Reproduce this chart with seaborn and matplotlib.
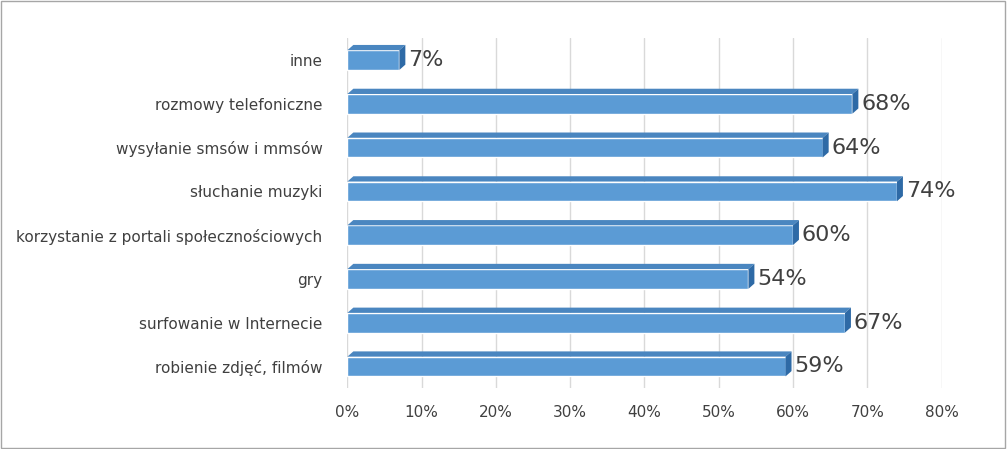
import matplotlib
matplotlib.use('Agg')
import matplotlib.pyplot as plt
import seaborn as sns
import pandas as pd
from matplotlib.patches import Polygon, Rectangle

categories = ['inne', 'rozmowy telefoniczne', 'wysyłanie smsów i mmsów', 'słuchanie muzyki',
              'korzystanie z portali społecznościowych', 'gry', 'surfowanie w Internecie',
              'robienie zdjęć, filmów']
values = [7, 68, 64, 74, 60, 54, 67, 59]
ticks = [0, 10, 20, 30, 40, 50, 60, 70, 80]

df = pd.DataFrame({'cat': categories, 'val': values})

sns.set_style('white')
plt.rcParams['font.family'] = ['DejaVu Sans']
fig = plt.figure(figsize=(10.07, 4.49), dpi=100)
ax = fig.add_axes([0.345, 0.135, 0.59, 0.78])

sns.barplot(data=df, x='val', y='cat', color='#5B9BD5', saturation=1, width=0.45, ax=ax, zorder=3)
ax.set_xlim(0, 80)
ax.set_xticks(ticks)
ax.set_xticklabels([f'{t}%' for t in ticks], fontsize=11, color='#404040')
ax.tick_params(axis='y', labelsize=11, labelcolor='#404040', length=0, pad=18)
ax.tick_params(axis='x', length=0, pad=12)
ax.set_xlabel('')
ax.set_ylabel('')
ax.grid(axis='x', color='#D9D9D9', lw=1, zorder=0)
for s in ax.spines.values():
    s.set_visible(False)

dx, dy = 0.8, 0.12
for p, v in zip(ax.patches, values):
    x0, y0 = p.get_x(), p.get_y()
    w, h = p.get_width(), p.get_height()
    # top face (y axis inverted: smaller y is top)
    ax.add_patch(Polygon([(x0, y0), (x0 + dx, y0 - dy), (x0 + w + dx, y0 - dy), (x0 + w, y0)],
                         closed=True, facecolor='#4A86C0', edgecolor='none', zorder=3))
    # side face
    ax.add_patch(Polygon([(x0 + w, y0), (x0 + w + dx, y0 - dy), (x0 + w + dx, y0 + h - dy), (x0 + w, y0 + h)],
                         closed=True, facecolor='#2E6AA6', edgecolor='none', zorder=3))
    ax.text(x0 + w + 1.2, y0 + h / 2, f'{v}%', va='center', ha='left', fontsize=16, color='#404040', zorder=4)

fig.patches.append(Rectangle((0.001, 0.002), 0.997, 0.995, transform=fig.transFigure,
                             fill=False, edgecolor='#A6A6A6', lw=1))
fig.savefig('out.png', dpi=100)
